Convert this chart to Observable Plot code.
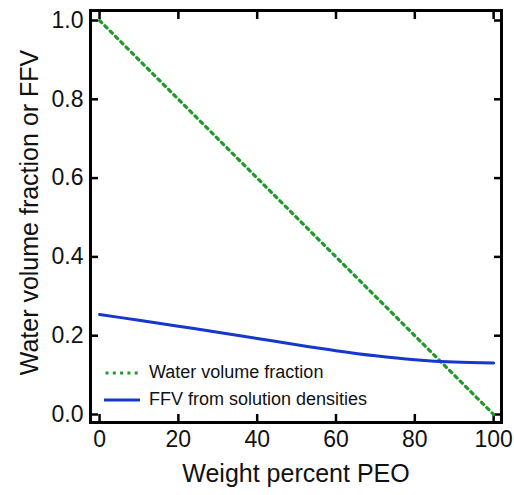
<!DOCTYPE html>
<html>
<head>
<meta charset="utf-8">
<script src="https://cdn.jsdelivr.net/npm/d3@7"></script>
<script src="https://cdn.jsdelivr.net/npm/@observablehq/plot@0.6"></script>
<style>
  html, body { margin: 0; padding: 0; background: #fff; }
  #wrap { position: relative; width: 514px; height: 495px; font-family: "Liberation Sans", Arial, sans-serif; }
  .legend { position: absolute; left: 104px; top: 359px; font-size: 18px; color: #111; }
  .legend .item { display: flex; align-items: center; height: 27px; }
  .legend svg { margin-right: 9px; }
</style>
</head>
<body>
<div id="wrap"></div>
<script>
// ---- data ----
const weightPercent = [0, 10, 20, 30, 40, 50, 60, 70, 80, 90, 100];
const ffvValues     = [0.254, 0.239, 0.224, 0.209, 0.193, 0.177, 0.162, 0.149, 0.139, 0.133, 0.131];
const waterX = [0, 100];
const waterY = [1.0, 0.0];
const xTicks = [0, 20, 40, 60, 80, 100];
const yTicks = [0.0, 0.2, 0.4, 0.6, 0.8, 1.0];
const seriesNames = ["Water volume fraction", "FFV from solution densities"];
const xLabel = "Weight percent PEO";
const yLabel = "Water volume fraction or FFV";

const green = "#1f9a26";
const blue = "#1538cc";

const ffv = weightPercent.map((x, i) => ({x, y: ffvValues[i]}));
const water = waterX.map((x, i) => ({x, y: waterY[i]}));

const tickW = 2.5, tickL = 8;
const font = 23;

const chart = Plot.plot({
  width: 514,
  height: 495,
  marginLeft: 90,
  marginRight: 13,
  marginTop: 10,
  marginBottom: 73,
  style: {fontFamily: '"Liberation Sans", Arial, sans-serif', background: "#fff", color: "#111"},
  x: {domain: [-2.3, 102.0]},
  y: {domain: [-0.0203, 1.0254]},
  marks: [
    // inward ticks on all four sides
    Plot.axisX(xTicks, {anchor: "bottom", fill: "none", tickSize: tickL, dy: -tickL, strokeWidth: tickW, stroke: "#000", label: null}),
    Plot.axisX(xTicks, {anchor: "top", fill: "none", tickSize: tickL, dy: tickL, strokeWidth: tickW, stroke: "#000", label: null}),
    Plot.axisY(yTicks, {anchor: "left", fill: "none", tickSize: tickL, dx: tickL, strokeWidth: tickW, stroke: "#000", label: null}),
    Plot.axisY(yTicks, {anchor: "right", fill: "none", tickSize: tickL, dx: -tickL, strokeWidth: tickW, stroke: "#000", label: null}),
    // tick labels
    Plot.axisX(xTicks, {anchor: "bottom", stroke: "none", tickSize: 0, tickPadding: 8, fontSize: font, label: null, tickFormat: d3.format("d")}),
    Plot.axisY(yTicks, {anchor: "left", stroke: "none", tickSize: 0, tickPadding: 7, fontSize: font, label: null, tickFormat: d3.format(".1f")}),
    // axis titles
    Plot.text([xLabel], {frameAnchor: "bottom", dy: 51, text: d => d, fontSize: 25, textAnchor: "middle", lineAnchor: "middle", fill: "#111"}),
    Plot.text([yLabel], {frameAnchor: "left", dx: -61, dy: -4, rotate: -90, text: d => d, fontSize: 25, textAnchor: "middle", lineAnchor: "middle", fill: "#111"}),
    // series
    Plot.line(water, {x: "x", y: "y", stroke: green, strokeWidth: 3.2, strokeDasharray: "3,4.5"}),
    Plot.line(ffv, {x: "x", y: "y", stroke: blue, strokeWidth: 3, curve: "monotone-x"}),
    Plot.frame({stroke: "#000", strokeWidth: 3})
  ]
});

const wrap = document.getElementById("wrap");
wrap.appendChild(chart);

// legend
const legend = document.createElement("div");
legend.className = "legend";
legend.innerHTML = `
  <div class="item"><svg width="36" height="6"><line x1="1.5" y1="3" x2="36" y2="3" stroke="${green}" stroke-width="3.2" stroke-dasharray="3,4.3"/></svg><span>${seriesNames[0]}</span></div>
  <div class="item"><svg width="36" height="6"><line x1="0" y1="3" x2="36" y2="3" stroke="${blue}" stroke-width="3"/></svg><span>${seriesNames[1]}</span></div>`;
wrap.appendChild(legend);
</script>
</body>
</html>
